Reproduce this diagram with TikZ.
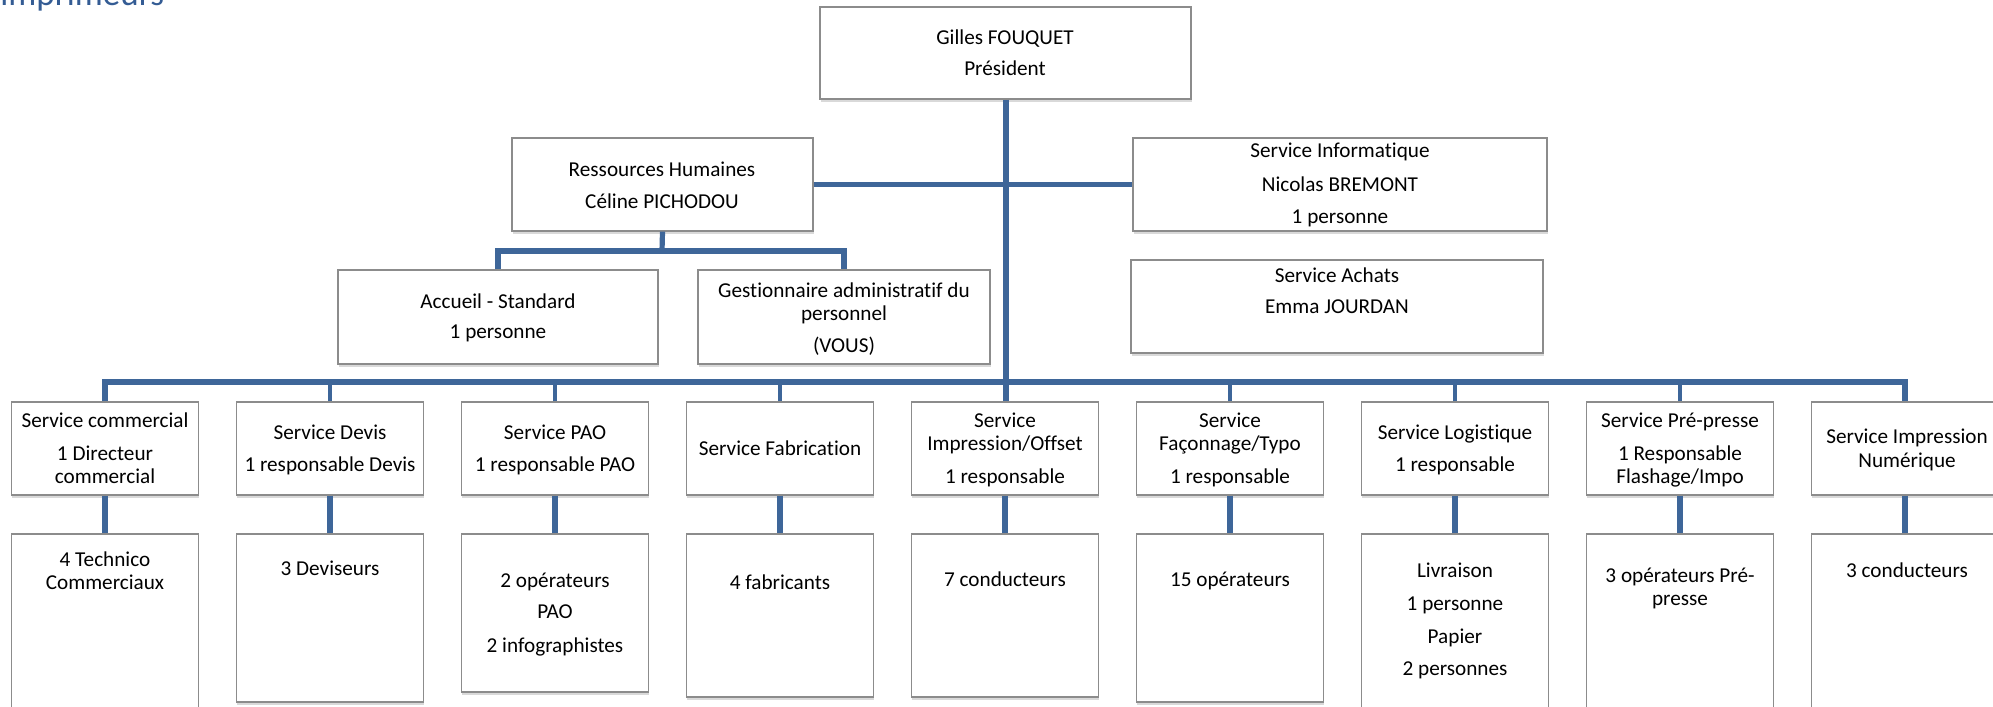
\documentclass[tikz,border=0pt]{standalone}
\usepackage{fontspec}
\setmainfont{Carlito}[Ligatures=CommonOff]
\usetikzlibrary{shadows}
\definecolor{conn}{RGB}{62,102,153}
\definecolor{boxline}{RGB}{140,140,140}
\definecolor{headblue}{RGB}{52,92,148}
\newcommand\bx[5]{\node[box, minimum width={((#4)-(#2))*0.5pt}, minimum height={((#5)-(#3))*0.5pt}] (#1) at ({((#2)+(#4))/2},{((#3)+(#5))/2}) {};}
\newcommand\tl[4]{\node[txt] (#1) at (#2,#3) {#4};}
\begin{document}
\begin{tikzpicture}[x=0.5pt,y=-0.5pt,
  box/.style={draw=boxline, line width=0.6pt, fill=white, rectangle, inner sep=0pt,
    drop shadow={shadow xshift=0.4pt, shadow yshift=-1.6pt, opacity=0.3}},
  txt/.style={font=\fontsize{10.6}{12}\selectfont, anchor=base, inner sep=0pt},
  link/.style={draw=conn, line width=2.6pt},
  mainlink/.style={draw=conn, line width=3pt},
  droplink/.style={draw=conn, line width=2pt}]
\useasboundingbox (0,0) rectangle (1993,707);

\node[anchor=base west, inner sep=0pt, text=headblue, font=\fontsize{17.5}{20}\selectfont] (head) at (0,5) {imprimeurs};

% top level
\bx{pres}{820}{7}{1191}{99}
\tl{pres1}{1005}{44}{Gilles FOUQUET}
\tl{pres2}{1005}{75}{Président}

\bx{rh}{512}{138}{813}{231}
\tl{rh1}{662}{176}{Ressources Humaines}
\tl{rh2}{662}{208}{Céline PICHODOU}

\bx{si}{1133}{138}{1547}{231}
\tl{si1}{1340}{157}{Service Informatique}
\tl{si2}{1340}{191}{Nicolas BREMONT}
\tl{si3}{1340}{223}{1 personne}

\bx{sa}{1131}{260}{1543}{353}
\tl{sa1}{1337}{282}{Service Achats}
\tl{sa2}{1337}{313}{Emma JOURDAN}

\bx{acc}{338}{270}{658}{364}
\tl{acc1}{498}{308}{Accueil - Standard}
\tl{acc2}{498}{338}{1 personne}

\bx{ges}{698}{270}{990}{364}
\tl{ges1}{844}{297}{Gestionnaire administratif du}
\tl{ges2}{844}{320}{personnel}
\tl{ges3}{844}{352}{(VOUS)}

% services
\foreach \i/\b in {1/712,2/702,3/692,4/697,5/697,6/702,7/712,8/712,9/712}{
  \pgfmathsetmacro\cx{105+225*(\i-1)}
  \bx{s\i}{\cx-93.5}{402}{\cx+93.5}{495}
  \bx{l\i}{\cx-93.5}{534}{\cx+93.5}{\b}
}

\tl{s1a}{105}{427}{Service commercial}
\tl{s1b}{105}{460}{1 Directeur}
\tl{s1c}{105}{483}{commercial}
\tl{l1a}{105}{566}{4 Technico}
\tl{l1b}{105}{589}{Commerciaux}

\tl{s2a}{330}{439}{Service Devis}
\tl{s2b}{330}{471}{1 responsable Devis}
\tl{l2a}{330}{575}{3 Deviseurs}

\tl{s3a}{555}{439}{Service PAO}
\tl{s3b}{555}{471}{1 responsable PAO}
\tl{l3a}{555}{587}{2 opérateurs}
\tl{l3b}{555}{618}{PAO}
\tl{l3c}{555}{652}{2 infographistes}

\tl{s4a}{780}{455}{Service Fabrication}
\tl{l4a}{780}{589}{4 fabricants}

\tl{s5a}{1005}{427}{Service}
\tl{s5b}{1005}{450}{Impression/Offset}
\tl{s5c}{1005}{483}{1 responsable}
\tl{l5a}{1005}{586}{7 conducteurs}

\tl{s6a}{1230}{427}{Service}
\tl{s6b}{1230}{450}{Façonnage/Typo}
\tl{s6c}{1230}{483}{1 responsable}
\tl{l6a}{1230}{586}{15 opérateurs}

\tl{s7a}{1455}{439}{Service Logistique}
\tl{s7b}{1455}{471}{1 responsable}
\tl{l7a}{1455}{577}{Livraison}
\tl{l7b}{1455}{610}{1 personne}
\tl{l7c}{1455}{643}{Papier}
\tl{l7d}{1455}{675}{2 personnes}

\tl{s8a}{1680}{427}{Service Pré-presse}
\tl{s8b}{1680}{460}{1 Responsable}
\tl{s8c}{1680}{483}{Flashage/Impo}
\tl{l8a}{1680}{582}{3 opérateurs Pré-}
\tl{l8b}{1680}{605}{presse}

\tl{s9a}{1907}{443}{Service Impression}
\tl{s9b}{1907}{467}{Numérique}
\tl{l9a}{1907}{577}{3 conducteurs}

% connectors
\coordinate (bus) at (0,382);
\coordinate (rhb) at (662,251);
\draw[mainlink] (pres.south) -- (pres.south |- s5.north);
\draw[link] (rh.east) -- (si.west);
\draw[link] (rh.south) -- (rhb);
\draw[link, line join=miter] (acc.north) |- (rhb) -| (ges.north);
\draw[link, line join=miter] (s1.north) -- (s1.north |- bus) -- (s9.north |- bus) -- (s9.north);
\foreach \i in {2,3,4,6,7,8}{
  \draw[droplink] (s\i.north) -- (s\i.north |- bus);
}
\foreach \i in {1,...,9}{
  \draw[link] (s\i.south) -- (l\i.north);
}
\end{tikzpicture}
\end{document}
